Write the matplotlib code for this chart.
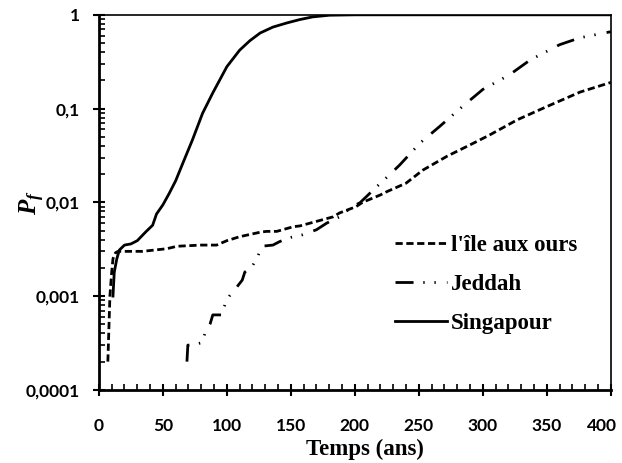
import matplotlib
matplotlib.use("Agg")
import matplotlib.pyplot as plt
import matplotlib.transforms as mtransforms
from matplotlib.ticker import MultipleLocator, FixedLocator, LogLocator, NullFormatter

plt.rcParams['mathtext.fontset'] = 'custom'
plt.rcParams['mathtext.it'] = 'Liberation Serif:italic:bold'
plt.rcParams['mathtext.rm'] = 'Liberation Serif:bold'

# courbes
ile_t = [7, 8.6, 10, 11, 13, 15, 20, 34, 53, 61, 80, 92, 100, 110, 126, 131, 139, 152, 157,
         165, 183, 188, 201, 206, 220, 225, 240, 253, 272, 290, 305, 327, 350, 376, 400]
ile_pf = [0.0002, 0.001, 0.0018, 0.0025, 0.0029, 0.003, 0.003, 0.003, 0.0032, 0.0034, 0.0035,
          0.0035, 0.0039, 0.0043, 0.0048, 0.0049, 0.0049, 0.0055, 0.0056, 0.006, 0.007, 0.0077,
          0.009, 0.01, 0.012, 0.013, 0.016, 0.022, 0.031, 0.041, 0.052, 0.076, 0.105, 0.15, 0.19]

jed_t = [68.8, 69.5, 73, 81, 83, 87, 89, 96, 98.5, 102, 108, 112, 114, 120, 124, 127, 136, 141,
         149, 159, 170, 178, 188, 198, 204, 209, 212, 220, 227, 235, 251, 266, 284, 300, 321,
         337, 360, 376, 400]
jed_pf = [0.0002, 0.0003, 0.0003, 0.00032, 0.00041, 0.00051, 0.00063, 0.00063, 0.00081, 0.001,
          0.00126, 0.00148, 0.0018, 0.0021, 0.0026, 0.0034, 0.0035, 0.0038, 0.0042, 0.0045,
          0.0051, 0.006, 0.007, 0.009, 0.0099, 0.0115, 0.0126, 0.016, 0.0196, 0.025, 0.043,
          0.064, 0.105, 0.16, 0.23, 0.33, 0.48, 0.57, 0.66]

sing_t = [11, 12, 14, 16, 20, 25, 30, 37, 42, 45, 50, 55, 60, 66, 73, 81, 89, 100, 110, 118,
          126, 136, 147, 157, 167, 180, 200, 400]
sing_pf = [0.001, 0.0018, 0.0025, 0.0031, 0.0035, 0.0036, 0.0039, 0.0049, 0.0057, 0.0075,
           0.0094, 0.0125, 0.017, 0.027, 0.046, 0.089, 0.147, 0.28, 0.42, 0.53, 0.64, 0.74,
           0.82, 0.89, 0.95, 0.99, 1.0, 1.0]

y_ticks = [0.0001, 0.001, 0.01, 0.1, 1]
y_labels = ['0,0001', '0,001', '0,01', '0,1', '1']

fig = plt.figure(figsize=(6.22, 4.63), dpi=100)
ax = fig.add_axes([0.159, 0.158, 0.823, 0.810])

ax.plot(ile_t, ile_pf, color='black', lw=2, dashes=[2.6, 1.3], label="l'île aux ours")
ax.plot(jed_t, jed_pf, color='black', lw=2, dashes=[6.5, 3.5, 0.5, 3.5, 0.5, 4], label='Jeddah')
ax.plot(sing_t, sing_pf, color='black', lw=2, label='Singapour')

ax.set_yscale('log')
ax.set_xlim(0, 400)
ax.set_ylim(0.0001, 1)
ax.xaxis.set_major_locator(MultipleLocator(50))
ax.xaxis.set_minor_locator(MultipleLocator(10))
ax.yaxis.set_major_locator(FixedLocator(y_ticks))
ax.set_yticklabels(y_labels)
ax.yaxis.set_minor_locator(LogLocator(base=10, subs=range(2, 10)))
ax.yaxis.set_minor_formatter(NullFormatter())

for lab in ax.get_xticklabels() + ax.get_yticklabels():
    lab.set_family('Lato')
    lab.set_weight('bold')
    lab.set_size(12.5)

ax.tick_params(which='both', bottom=True, left=True, top=False, right=False, color='black')
ax.tick_params(which='major', direction='inout', length=9, width=1.5)
ax.tick_params(which='minor', direction='in', length=4.5, width=1.2)
ax.tick_params(axis='x', which='major', pad=16)
ax.tick_params(axis='y', which='major', pad=9)

for s in ['left', 'bottom']:
    ax.spines[s].set_linewidth(2)
for s in ['top', 'right']:
    ax.spines[s].set_linewidth(1.2)

ax.set_xlabel('Temps (ans)', family='Liberation Serif', weight='bold', size=16.5, labelpad=0)
ax.xaxis.set_label_coords(0.52, -0.13)
fig.text(0.052, 0.562, r'$P_f$', rotation=90, ha='center', va='center', size=18)

leg = ax.legend(loc='center left', bbox_to_anchor=(0.578, 0.28), frameon=False,
                prop={'family': 'Liberation Serif', 'weight': 'bold', 'size': 16.5},
                handlelength=2.3, handletextpad=0.15, labelspacing=0.78, borderpad=0,
                borderaxespad=0)

# decale un peu le "400" pour qu'il reste dans l'image
fig.canvas.draw()
last = ax.xaxis.get_major_ticks()[-1]
for t in ax.xaxis.get_major_ticks():
    if abs(t.get_loc() - 400) < 1e-6:
        last = t
last.label1.set_transform(last.label1.get_transform() +
                          mtransforms.ScaledTranslation(-6 / 72, 0, fig.dpi_scale_trans))

fig.savefig('out.png', dpi=100)
